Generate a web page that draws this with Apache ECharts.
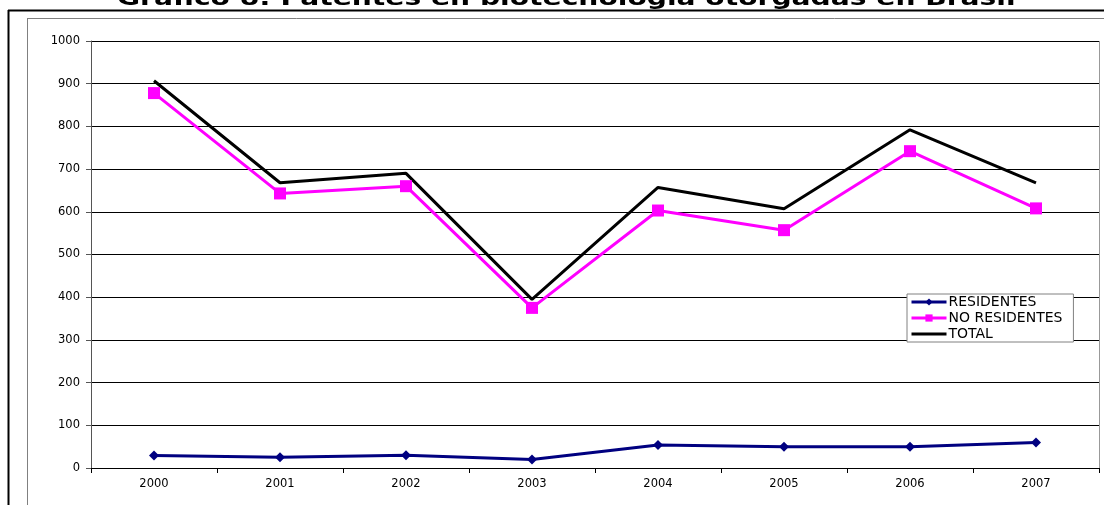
<!DOCTYPE html>
<html>
<head>
<meta charset="utf-8">
<script src="https://cdn.jsdelivr.net/npm/echarts@6/dist/echarts.min.js"></script>
<style>
  html, body { margin: 0; padding: 0; background: #fff; }
  #chart { width: 1104px; height: 505px; }
</style>
</head>
<body>
<div id="chart"></div>
<script>
// años
var years = ["2000", "2001", "2002", "2003", "2004", "2005", "2006", "2007"];
// patentes otorgadas
var residentes = [29, 25, 30, 20, 54, 50, 50, 60];
var noResidentes = [878, 643, 660, 375, 603, 557, 742, 608];
var total = [907, 668, 690, 395, 657, 607, 792, 668];

var myChart = echarts.init(document.getElementById("chart"));

var labelFont = "DejaVu Sans, Verdana, sans-serif";

var option = {
  animation: false,
  textStyle: { fontFamily: labelFont },
  // marco del gráfico (recortado como en el original)
  graphic: [
    { type: "line", shape: { x1: 8, y1: 10.5, x2: 1104, y2: 10.5 }, style: { stroke: "#000", lineWidth: 2 } },
    { type: "line", shape: { x1: 8.5, y1: 10, x2: 8.5, y2: 505 }, style: { stroke: "#000", lineWidth: 2 } },
    { type: "line", shape: { x1: 27, y1: 18.5, x2: 1104, y2: 18.5 }, style: { stroke: "#808080", lineWidth: 1 } },
    { type: "line", shape: { x1: 27.5, y1: 18, x2: 27.5, y2: 505 }, style: { stroke: "#808080", lineWidth: 1 } },
    { type: "line", shape: { x1: 1099.5, y1: 41, x2: 1099.5, y2: 468 }, style: { stroke: "#999", lineWidth: 1 } },
    {
      type: "text",
      x: 117,
      y: -12,
      scaleX: 1.28,
      style: {
        text: "Gráfico 8: Patentes en biotecnología otorgadas en Brasil",
        fontFamily: "DejaVu Sans",
        fontWeight: "bold",
        fontSize: 22,
        fill: "#000"
      }
    }
  ],
  grid: {
    left: 91,
    right: 5,
    top: 41,
    bottom: 37
  },
  legend: {
    data: [
      "RESIDENTES",
      "NO RESIDENTES",
      { name: "TOTAL", itemStyle: { opacity: 0 } }
    ],
    orient: "vertical",
    left: 907,
    top: 294,
    padding: [1, 11, 1, 3],
    itemGap: 2,
    itemWidth: 35,
    itemHeight: 9,
    borderColor: "#808080",
    borderWidth: 1,
    backgroundColor: "#fff",
    lineStyle: { width: 3 },
    textStyle: { fontSize: 14, lineHeight: 14, color: "#000", padding: [0, 0, 0, -3] }
  },
  xAxis: {
    type: "category",
    data: years,
    boundaryGap: true,
    axisLine: { lineStyle: { color: "#000", width: 1 } },
    axisTick: { show: true, length: 5, lineStyle: { color: "#000" } },
    axisLabel: { color: "#000", fontSize: 11.5, margin: 10 },
    splitLine: { show: false }
  },
  yAxis: {
    type: "value",
    min: 0,
    max: 1000,
    interval: 100,
    axisLine: { show: true, lineStyle: { color: "#555", width: 1 } },
    axisTick: { show: true, length: 5, lineStyle: { color: "#555" } },
    axisLabel: {
      color: "#000",
      fontSize: 11.5,
      margin: 11,
      formatter: function (v) { return String(v); }
    },
    splitLine: { show: true, lineStyle: { color: "#000", width: 1 } }
  },
  series: [
    {
      name: "RESIDENTES",
      type: "line",
      data: residentes,
      symbol: "diamond",
      symbolSize: 10,
      lineStyle: { color: "#000080", width: 3 },
      itemStyle: { color: "#000080" }
    },
    {
      name: "NO RESIDENTES",
      type: "line",
      data: noResidentes,
      symbol: "rect",
      symbolSize: 12,
      lineStyle: { color: "#FF00FF", width: 3 },
      itemStyle: { color: "#FF00FF" }
    },
    {
      name: "TOTAL",
      type: "line",
      data: total,
      symbol: "none",
      lineStyle: { color: "#000", width: 3 },
      itemStyle: { color: "#000" }
    }
  ]
};

myChart.setOption(option);
window.addEventListener("resize", function () {
  myChart.resize();
});
</script>
</body>
</html>
